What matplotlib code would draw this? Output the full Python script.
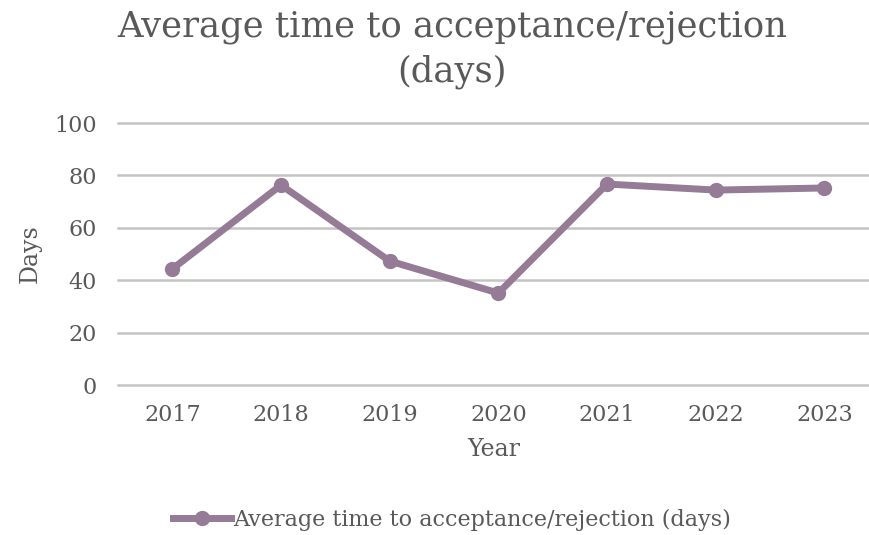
import matplotlib.pyplot as plt
from matplotlib.lines import Line2D

# Werte
years = ["2017", "2018", "2019", "2020", "2021", "2022", "2023"]
avg_days = [44.3, 76.3, 47.3, 35.1, 76.7, 74.4, 75.2]
y_ticks = [0, 20, 40, 60, 80, 100]

line_color = "#957b95"
text_color = "#595959"

plt.rcParams["font.family"] = ["DejaVu Serif"]

fig = plt.figure(figsize=(8.69, 5.35), dpi=100)
ax = fig.add_axes([118 / 869, 1 - 385 / 535, 1 - 118 / 869, (385 - 123) / 535])

x = list(range(len(years)))
ax.plot(x, avg_days, color=line_color, linewidth=5, marker="o", markersize=10,
        solid_capstyle="round", label="Average time to acceptance/rejection (days)")

ax.set_xlim(-0.5, 6.41)
ax.set_ylim(0, 100)
ax.set_yticks(y_ticks)
ax.set_xticks(x)
ax.set_xticklabels(years)
ax.grid(True, axis="y", color="#c4c4c4", linewidth=1.8)
for gl in ax.get_ygridlines():
    gl.set_clip_on(False)
ax.set_axisbelow(True)
for s in ax.spines.values():
    s.set_visible(False)
ax.tick_params(length=0, labelsize=16, colors=text_color)
ax.tick_params(axis="y", pad=15)
ax.tick_params(axis="x", pad=14)

ax.set_ylabel("Days", fontsize=17, color=text_color, labelpad=9)
ax.set_xlabel("Year", fontsize=17, color=text_color, labelpad=8)

fig.text(0.52, 0.908, "Average time to acceptance/rejection\n(days)", ha="center",
         va="center", fontsize=25.5, color=text_color, linespacing=1.4)

handle = Line2D([], [], color=line_color, linewidth=5, marker="o", markersize=10)
fig.legend([handle], ["Average time to acceptance/rejection (days)"], loc="center",
           bbox_to_anchor=(0.52, 0.028), frameon=False, fontsize=16,
           labelcolor=text_color, handlelength=2.6, handletextpad=0.1)

plt.savefig("out.png", dpi=100)
